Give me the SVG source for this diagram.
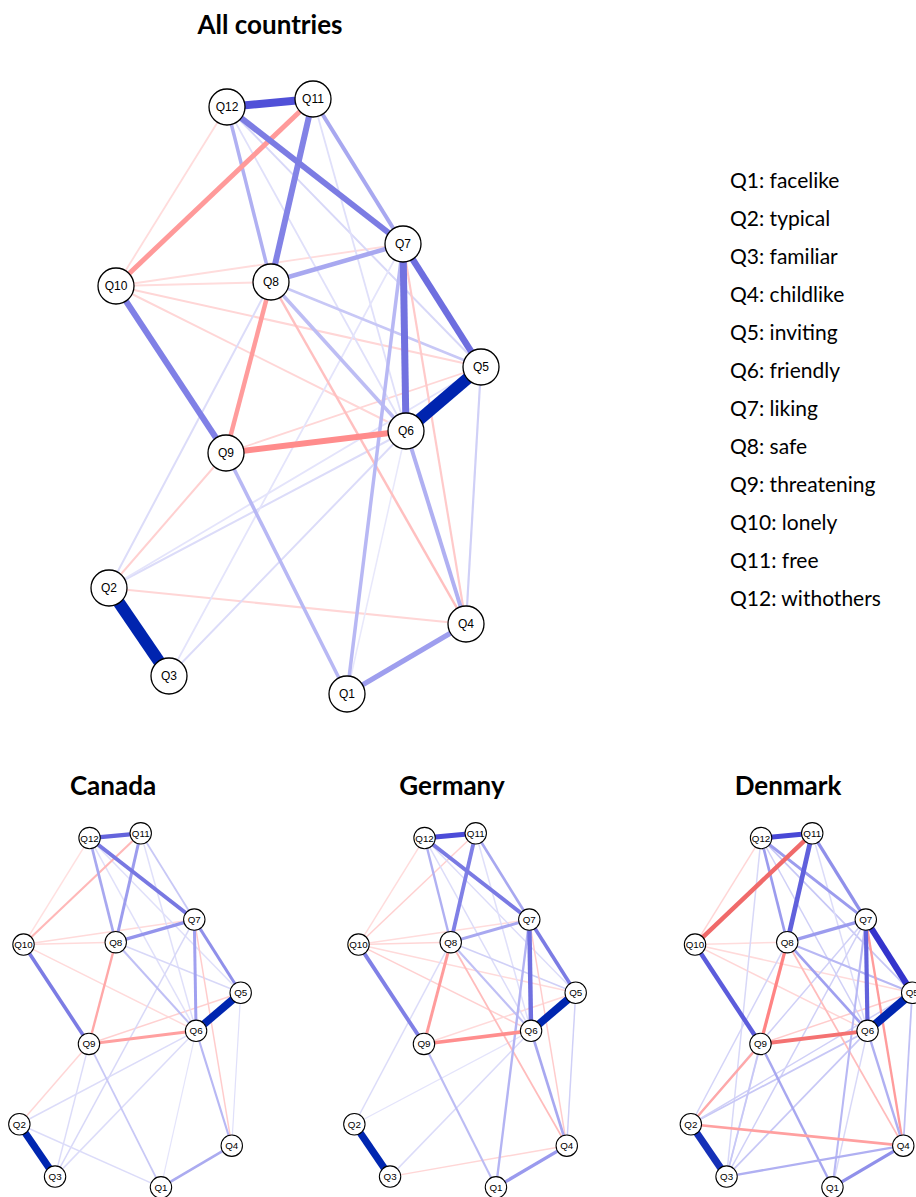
<svg xmlns="http://www.w3.org/2000/svg" width="916" height="1197" viewBox="0 0 916 1197">
<style>
.title{font-family:Lato,"Liberation Sans",sans-serif;font-weight:700;font-size:26px;fill:#000;text-anchor:middle}
.leg{font-family:Lato,"Liberation Sans",sans-serif;font-size:21px;fill:#000}
.node circle{fill:#fff;stroke:#000;stroke-width:1.3}
.node text{font-family:"Liberation Sans",Arial,sans-serif;font-size:12px;fill:#000;text-anchor:middle}
.small .node circle{stroke-width:1.8}
.small .node text{font-size:16.5px}
line{fill:none}
</style>
<rect width="916" height="1197" fill="#fff"/>
<text class="title" x="270" y="34">All countries</text>
<text class="title" x="113" y="795">Canada</text>
<text class="title" x="452" y="795">Germany</text>
<text class="title" x="788" y="795">Denmark</text>
<g id="legend" class="leg">
<text x="730" y="188">Q1: facelike</text>
<text x="730" y="226">Q2: typical</text>
<text x="730" y="264">Q3: familiar</text>
<text x="730" y="302">Q4: childlike</text>
<text x="730" y="340">Q5: inviting</text>
<text x="730" y="378">Q6: friendly</text>
<text x="730" y="416">Q7: liking</text>
<text x="730" y="454">Q8: safe</text>
<text x="730" y="492">Q9: threatening</text>
<text x="730" y="530">Q10: lonely</text>
<text x="730" y="568">Q11: free</text>
<text x="730" y="606">Q12: withothers</text>
</g>

<!-- ALL COUNTRIES -->
<g id="all">
<g id="all-edges">
<line x1="227" y1="107" x2="116" y2="286" stroke="#FFDCDC" stroke-width="1.8"/>
<line x1="116" y1="286" x2="403" y2="244" stroke="#FFDCDC" stroke-width="1.8"/>
<line x1="116" y1="286" x2="271" y2="282" stroke="#FFDCDC" stroke-width="2"/>
<line x1="116" y1="286" x2="481" y2="367" stroke="#FFD6D6" stroke-width="2"/>
<line x1="116" y1="286" x2="406" y2="431" stroke="#FFD6D6" stroke-width="2"/>
<line x1="226" y1="453" x2="481" y2="367" stroke="#FFD6D6" stroke-width="1.8"/>
<line x1="226" y1="453" x2="109" y2="588" stroke="#FFD0D0" stroke-width="2"/>
<line x1="109" y1="588" x2="466" y2="624" stroke="#FFD6D6" stroke-width="2"/>
<line x1="227" y1="107" x2="481" y2="367" stroke="#D8D8F8" stroke-width="2"/>
<line x1="227" y1="107" x2="406" y2="431" stroke="#E0E0FA" stroke-width="1.8"/>
<line x1="313" y1="99" x2="406" y2="431" stroke="#E0E0FA" stroke-width="1.8"/>
<line x1="313" y1="99" x2="481" y2="367" stroke="#E4E4FA" stroke-width="1.5"/>
<line x1="109" y1="588" x2="271" y2="282" stroke="#DCDCF9" stroke-width="2"/>
<line x1="109" y1="588" x2="406" y2="431" stroke="#DCDCF9" stroke-width="2"/>
<line x1="109" y1="588" x2="481" y2="367" stroke="#E4E4FB" stroke-width="1.8"/>
<line x1="169" y1="676" x2="406" y2="431" stroke="#DCDCF9" stroke-width="2"/>
<line x1="169" y1="676" x2="403" y2="244" stroke="#E4E4FB" stroke-width="1.8"/>
<line x1="347" y1="694" x2="406" y2="431" stroke="#E8E8FB" stroke-width="1.5"/>
<line x1="481" y1="367" x2="466" y2="624" stroke="#D0D0F7" stroke-width="2.2"/>
<line x1="271" y1="282" x2="481" y2="367" stroke="#C8C8F6" stroke-width="2.5"/>
<line x1="403" y1="244" x2="466" y2="624" stroke="#FFCACA" stroke-width="2.2"/>
<line x1="271" y1="282" x2="466" y2="624" stroke="#FFC0C0" stroke-width="2.5"/>
<line x1="271" y1="282" x2="406" y2="431" stroke="#BDBDF4" stroke-width="3.5"/>
<line x1="403" y1="244" x2="347" y2="694" stroke="#B8B8F4" stroke-width="3.5"/>
<line x1="226" y1="453" x2="347" y2="694" stroke="#B8B8F4" stroke-width="3.5"/>
<line x1="406" y1="431" x2="466" y2="624" stroke="#B0B0F2" stroke-width="4"/>
<line x1="227" y1="107" x2="271" y2="282" stroke="#B0B0F2" stroke-width="3.5"/>
<line x1="313" y1="99" x2="403" y2="244" stroke="#A8A8F0" stroke-width="4"/>
<line x1="403" y1="244" x2="271" y2="282" stroke="#A8A8F0" stroke-width="4.5"/>
<line x1="347" y1="694" x2="466" y2="624" stroke="#9E9EEE" stroke-width="5"/>
<line x1="271" y1="282" x2="226" y2="453" stroke="#FF9C9C" stroke-width="4.5"/>
<line x1="313" y1="99" x2="116" y2="286" stroke="#FF9A9A" stroke-width="5"/>
<line x1="226" y1="453" x2="406" y2="431" stroke="#FF8C8C" stroke-width="6"/>
<line x1="116" y1="286" x2="226" y2="453" stroke="#8080E6" stroke-width="6"/>
<line x1="313" y1="99" x2="271" y2="282" stroke="#8282E6" stroke-width="6"/>
<line x1="227" y1="107" x2="403" y2="244" stroke="#7C7CE3" stroke-width="6"/>
<line x1="403" y1="244" x2="481" y2="367" stroke="#6E6EDF" stroke-width="6.5"/>
<line x1="403" y1="244" x2="406" y2="431" stroke="#7272E0" stroke-width="7"/>
<line x1="227" y1="107" x2="313" y2="99" stroke="#5050D8" stroke-width="8"/>
<line x1="481" y1="367" x2="406" y2="431" stroke="#0024AF" stroke-width="12"/>
<line x1="109" y1="588" x2="169" y2="676" stroke="#0024AF" stroke-width="12"/>
</g>
<g id="all-Q1" class="node"><circle cx="347" cy="694" r="18"/><text x="347" y="698.2">Q1</text></g>
<g id="all-Q2" class="node"><circle cx="109" cy="588" r="18"/><text x="109" y="592.2">Q2</text></g>
<g id="all-Q3" class="node"><circle cx="169" cy="676" r="18"/><text x="169" y="680.2">Q3</text></g>
<g id="all-Q4" class="node"><circle cx="466" cy="624" r="18"/><text x="466" y="628.2">Q4</text></g>
<g id="all-Q5" class="node"><circle cx="481" cy="367" r="18"/><text x="481" y="371.2">Q5</text></g>
<g id="all-Q6" class="node"><circle cx="406" cy="431" r="18"/><text x="406" y="435.2">Q6</text></g>
<g id="all-Q7" class="node"><circle cx="403" cy="244" r="18"/><text x="403" y="248.2">Q7</text></g>
<g id="all-Q8" class="node"><circle cx="271" cy="282" r="18"/><text x="271" y="286.2">Q8</text></g>
<g id="all-Q9" class="node"><circle cx="226" cy="453" r="18"/><text x="226" y="457.2">Q9</text></g>
<g id="all-Q10" class="node"><circle cx="116" cy="286" r="18"/><text x="116" y="290.2">Q10</text></g>
<g id="all-Q11" class="node"><circle cx="313" cy="99" r="18"/><text x="313" y="103.2">Q11</text></g>
<g id="all-Q12" class="node"><circle cx="227" cy="107" r="18"/><text x="227" y="111.2">Q12</text></g>
</g>

<!-- CANADA -->
<g id="canada" class="small" transform="translate(-45.5,774.4) scale(0.595)">
<g id="ca-edges">
<line x1="227" y1="107" x2="116" y2="286" stroke="#FFE0E0" stroke-width="2.5"/>
<line x1="116" y1="286" x2="271" y2="282" stroke="#FFDADA" stroke-width="2.5"/>
<line x1="116" y1="286" x2="403" y2="244" stroke="#FFDADA" stroke-width="2.5"/>
<line x1="116" y1="286" x2="406" y2="431" stroke="#FFDADA" stroke-width="2.5"/>
<line x1="226" y1="453" x2="481" y2="367" stroke="#FFD0D0" stroke-width="2.5"/>
<line x1="226" y1="453" x2="109" y2="588" stroke="#FFD6D6" stroke-width="2.5"/>
<line x1="227" y1="107" x2="406" y2="431" stroke="#E0E0FA" stroke-width="2.5"/>
<line x1="313" y1="99" x2="406" y2="431" stroke="#E0E0FA" stroke-width="2.5"/>
<line x1="227" y1="107" x2="481" y2="367" stroke="#E0E0FA" stroke-width="2.5"/>
<line x1="271" y1="282" x2="481" y2="367" stroke="#D8D8F8" stroke-width="2.5"/>
<line x1="403" y1="244" x2="169" y2="676" stroke="#D8D8F8" stroke-width="2.5"/>
<line x1="403" y1="244" x2="466" y2="624" stroke="#FFCCCC" stroke-width="2.5"/>
<line x1="226" y1="453" x2="169" y2="676" stroke="#DCDCF9" stroke-width="2.5"/>
<line x1="406" y1="431" x2="109" y2="588" stroke="#DCDCF9" stroke-width="2.5"/>
<line x1="406" y1="431" x2="169" y2="676" stroke="#DCDCF9" stroke-width="2.5"/>
<line x1="109" y1="588" x2="347" y2="694" stroke="#DCDCF9" stroke-width="2.5"/>
<line x1="406" y1="431" x2="347" y2="694" stroke="#E4E4FB" stroke-width="2"/>
<line x1="481" y1="367" x2="466" y2="624" stroke="#E0E0FA" stroke-width="2"/>
<line x1="313" y1="99" x2="403" y2="244" stroke="#C8C8F6" stroke-width="3"/>
<line x1="226" y1="453" x2="347" y2="694" stroke="#C8C8F6" stroke-width="3"/>
<line x1="271" y1="282" x2="406" y2="431" stroke="#C0C0F5" stroke-width="3.5"/>
<line x1="406" y1="431" x2="466" y2="624" stroke="#B8B8F4" stroke-width="3.5"/>
<line x1="313" y1="99" x2="116" y2="286" stroke="#FFB8B8" stroke-width="3.5"/>
<line x1="271" y1="282" x2="226" y2="453" stroke="#FFA8A8" stroke-width="4"/>
<line x1="226" y1="453" x2="406" y2="431" stroke="#FFA0A0" stroke-width="5"/>
<line x1="347" y1="694" x2="466" y2="624" stroke="#ABABF0" stroke-width="4.5"/>
<line x1="227" y1="107" x2="271" y2="282" stroke="#A8A8F0" stroke-width="4.5"/>
<line x1="403" y1="244" x2="406" y2="431" stroke="#A0A0F0" stroke-width="5"/>
<line x1="313" y1="99" x2="271" y2="282" stroke="#9C9CEE" stroke-width="5"/>
<line x1="271" y1="282" x2="403" y2="244" stroke="#9494EC" stroke-width="5.5"/>
<line x1="403" y1="244" x2="481" y2="367" stroke="#9090EA" stroke-width="5"/>
<line x1="116" y1="286" x2="226" y2="453" stroke="#7C7CE4" stroke-width="6"/>
<line x1="227" y1="107" x2="403" y2="244" stroke="#7878E2" stroke-width="6.5"/>
<line x1="227" y1="107" x2="313" y2="99" stroke="#6464DC" stroke-width="7"/>
<line x1="481" y1="367" x2="406" y2="431" stroke="#0026B0" stroke-width="13"/>
<line x1="109" y1="588" x2="169" y2="676" stroke="#0026B0" stroke-width="12"/>
</g>
<g id="ca-Q1" class="node"><circle cx="347" cy="694" r="18"/><text x="347" y="699.8">Q1</text></g>
<g id="ca-Q2" class="node"><circle cx="109" cy="588" r="18"/><text x="109" y="593.8">Q2</text></g>
<g id="ca-Q3" class="node"><circle cx="169" cy="676" r="18"/><text x="169" y="681.8">Q3</text></g>
<g id="ca-Q4" class="node"><circle cx="466" cy="624" r="18"/><text x="466" y="629.8">Q4</text></g>
<g id="ca-Q5" class="node"><circle cx="481" cy="367" r="18"/><text x="481" y="372.8">Q5</text></g>
<g id="ca-Q6" class="node"><circle cx="406" cy="431" r="18"/><text x="406" y="436.8">Q6</text></g>
<g id="ca-Q7" class="node"><circle cx="403" cy="244" r="18"/><text x="403" y="249.8">Q7</text></g>
<g id="ca-Q8" class="node"><circle cx="271" cy="282" r="18"/><text x="271" y="287.8">Q8</text></g>
<g id="ca-Q9" class="node"><circle cx="226" cy="453" r="18"/><text x="226" y="458.8">Q9</text></g>
<g id="ca-Q10" class="node"><circle cx="116" cy="286" r="18"/><text x="116" y="291.8">Q10</text></g>
<g id="ca-Q11" class="node"><circle cx="313" cy="99" r="18"/><text x="313" y="104.8">Q11</text></g>
<g id="ca-Q12" class="node"><circle cx="227" cy="107" r="18"/><text x="227" y="112.8">Q12</text></g>
</g>

<!-- GERMANY -->
<g id="germany" class="small" transform="translate(289.5,774.4) scale(0.595)">
<g id="de-edges">
<line x1="227" y1="107" x2="116" y2="286" stroke="#FFDCDC" stroke-width="2.5"/>
<line x1="313" y1="99" x2="116" y2="286" stroke="#FFD0D0" stroke-width="2.5"/>
<line x1="116" y1="286" x2="271" y2="282" stroke="#FFD6D6" stroke-width="2.5"/>
<line x1="116" y1="286" x2="403" y2="244" stroke="#FFDCDC" stroke-width="2.5"/>
<line x1="116" y1="286" x2="481" y2="367" stroke="#FFDADA" stroke-width="2.5"/>
<line x1="116" y1="286" x2="406" y2="431" stroke="#FFD0D0" stroke-width="2.5"/>
<line x1="226" y1="453" x2="481" y2="367" stroke="#FFDADA" stroke-width="2.5"/>
<line x1="169" y1="676" x2="466" y2="624" stroke="#FFD6D6" stroke-width="2.5"/>
<line x1="227" y1="107" x2="406" y2="431" stroke="#DCDCF9" stroke-width="2.5"/>
<line x1="227" y1="107" x2="481" y2="367" stroke="#DCDCF9" stroke-width="2.5"/>
<line x1="313" y1="99" x2="406" y2="431" stroke="#E0E0FA" stroke-width="2.5"/>
<line x1="271" y1="282" x2="481" y2="367" stroke="#D0D0F7" stroke-width="2.5"/>
<line x1="271" y1="282" x2="109" y2="588" stroke="#DCDCF9" stroke-width="2.5"/>
<line x1="406" y1="431" x2="109" y2="588" stroke="#E4E4FB" stroke-width="2"/>
<line x1="406" y1="431" x2="169" y2="676" stroke="#DCDCF9" stroke-width="2.5"/>
<line x1="481" y1="367" x2="466" y2="624" stroke="#D0D0F7" stroke-width="2.5"/>
<line x1="403" y1="244" x2="466" y2="624" stroke="#FFCCCC" stroke-width="2.5"/>
<line x1="271" y1="282" x2="466" y2="624" stroke="#FFBCBC" stroke-width="3"/>
<line x1="271" y1="282" x2="406" y2="431" stroke="#C0C0F5" stroke-width="3.5"/>
<line x1="226" y1="453" x2="347" y2="694" stroke="#BCBCF4" stroke-width="3.5"/>
<line x1="403" y1="244" x2="347" y2="694" stroke="#B4B4F3" stroke-width="4"/>
<line x1="406" y1="431" x2="466" y2="624" stroke="#A8A8F0" stroke-width="4.5"/>
<line x1="227" y1="107" x2="271" y2="282" stroke="#B0B0F2" stroke-width="4"/>
<line x1="313" y1="99" x2="403" y2="244" stroke="#A8A8F0" stroke-width="4.5"/>
<line x1="271" y1="282" x2="403" y2="244" stroke="#A8A8F0" stroke-width="5"/>
<line x1="347" y1="694" x2="466" y2="624" stroke="#9A9AEE" stroke-width="5.5"/>
<line x1="271" y1="282" x2="226" y2="453" stroke="#FF9C9C" stroke-width="5"/>
<line x1="226" y1="453" x2="406" y2="431" stroke="#FF8E8E" stroke-width="6"/>
<line x1="116" y1="286" x2="226" y2="453" stroke="#8080E6" stroke-width="6.5"/>
<line x1="313" y1="99" x2="271" y2="282" stroke="#8080E6" stroke-width="6.5"/>
<line x1="227" y1="107" x2="403" y2="244" stroke="#7A7AE3" stroke-width="6.5"/>
<line x1="403" y1="244" x2="481" y2="367" stroke="#7C7CE4" stroke-width="6"/>
<line x1="403" y1="244" x2="406" y2="431" stroke="#7070E0" stroke-width="7.5"/>
<line x1="227" y1="107" x2="313" y2="99" stroke="#4C4CD8" stroke-width="8.5"/>
<line x1="481" y1="367" x2="406" y2="431" stroke="#0026B0" stroke-width="13"/>
<line x1="109" y1="588" x2="169" y2="676" stroke="#0026B0" stroke-width="12"/>
</g>
<g id="de-Q1" class="node"><circle cx="347" cy="694" r="18"/><text x="347" y="699.8">Q1</text></g>
<g id="de-Q2" class="node"><circle cx="109" cy="588" r="18"/><text x="109" y="593.8">Q2</text></g>
<g id="de-Q3" class="node"><circle cx="169" cy="676" r="18"/><text x="169" y="681.8">Q3</text></g>
<g id="de-Q4" class="node"><circle cx="466" cy="624" r="18"/><text x="466" y="629.8">Q4</text></g>
<g id="de-Q5" class="node"><circle cx="481" cy="367" r="18"/><text x="481" y="372.8">Q5</text></g>
<g id="de-Q6" class="node"><circle cx="406" cy="431" r="18"/><text x="406" y="436.8">Q6</text></g>
<g id="de-Q7" class="node"><circle cx="403" cy="244" r="18"/><text x="403" y="249.8">Q7</text></g>
<g id="de-Q8" class="node"><circle cx="271" cy="282" r="18"/><text x="271" y="287.8">Q8</text></g>
<g id="de-Q9" class="node"><circle cx="226" cy="453" r="18"/><text x="226" y="458.8">Q9</text></g>
<g id="de-Q10" class="node"><circle cx="116" cy="286" r="18"/><text x="116" y="291.8">Q10</text></g>
<g id="de-Q11" class="node"><circle cx="313" cy="99" r="18"/><text x="313" y="104.8">Q11</text></g>
<g id="de-Q12" class="node"><circle cx="227" cy="107" r="18"/><text x="227" y="112.8">Q12</text></g>
</g>

<!-- DENMARK -->
<g id="denmark" class="small" transform="translate(626,774.4) scale(0.595)">
<g id="dk-edges">
<line x1="227" y1="107" x2="116" y2="286" stroke="#FFD6D6" stroke-width="2.5"/>
<line x1="116" y1="286" x2="271" y2="282" stroke="#FFDCDC" stroke-width="2.5"/>
<line x1="116" y1="286" x2="481" y2="367" stroke="#FFDADA" stroke-width="2.5"/>
<line x1="116" y1="286" x2="406" y2="431" stroke="#FFD6D6" stroke-width="2.5"/>
<line x1="226" y1="453" x2="481" y2="367" stroke="#FFCCCC" stroke-width="2.5"/>
<line x1="227" y1="107" x2="169" y2="676" stroke="#D8D8F8" stroke-width="2.5"/>
<line x1="227" y1="107" x2="481" y2="367" stroke="#C8C8F6" stroke-width="3"/>
<line x1="313" y1="99" x2="406" y2="431" stroke="#DCDCF9" stroke-width="2.5"/>
<line x1="227" y1="107" x2="406" y2="431" stroke="#D0D0F7" stroke-width="2.5"/>
<line x1="271" y1="282" x2="169" y2="676" stroke="#D4D4F8" stroke-width="2.5"/>
<line x1="271" y1="282" x2="109" y2="588" stroke="#D4D4F8" stroke-width="2.5"/>
<line x1="403" y1="244" x2="109" y2="588" stroke="#D0D0F7" stroke-width="2.5"/>
<line x1="403" y1="244" x2="169" y2="676" stroke="#D0D0F7" stroke-width="2.5"/>
<line x1="406" y1="431" x2="109" y2="588" stroke="#C8C8F6" stroke-width="3"/>
<line x1="406" y1="431" x2="169" y2="676" stroke="#C8C8F6" stroke-width="3"/>
<line x1="481" y1="367" x2="109" y2="588" stroke="#D0D0F7" stroke-width="2.5"/>
<line x1="226" y1="453" x2="169" y2="676" stroke="#C8C8F6" stroke-width="3"/>
<line x1="406" y1="431" x2="347" y2="694" stroke="#D8D8F8" stroke-width="2.5"/>
<line x1="481" y1="367" x2="466" y2="624" stroke="#C0C0F5" stroke-width="3"/>
<line x1="271" y1="282" x2="466" y2="624" stroke="#FFBCBC" stroke-width="3"/>
<line x1="271" y1="282" x2="481" y2="367" stroke="#B8B8F4" stroke-width="3.5"/>
<line x1="403" y1="244" x2="347" y2="694" stroke="#B8B8F4" stroke-width="3.5"/>
<line x1="403" y1="244" x2="466" y2="624" stroke="#FF9C9C" stroke-width="4"/>
<line x1="226" y1="453" x2="109" y2="588" stroke="#FFA8A8" stroke-width="4"/>
<line x1="226" y1="453" x2="347" y2="694" stroke="#A8A8F0" stroke-width="4"/>
<line x1="406" y1="431" x2="466" y2="624" stroke="#B0B0F2" stroke-width="4"/>
<line x1="169" y1="676" x2="466" y2="624" stroke="#B0B0F2" stroke-width="4"/>
<line x1="271" y1="282" x2="406" y2="431" stroke="#A0A0F0" stroke-width="4.5"/>
<line x1="109" y1="588" x2="466" y2="624" stroke="#FFA0A0" stroke-width="4.5"/>
<line x1="227" y1="107" x2="271" y2="282" stroke="#9C9CEE" stroke-width="4.5"/>
<line x1="227" y1="107" x2="403" y2="244" stroke="#9C9CEE" stroke-width="5"/>
<line x1="313" y1="99" x2="403" y2="244" stroke="#9090EA" stroke-width="5.5"/>
<line x1="271" y1="282" x2="403" y2="244" stroke="#9C9CEE" stroke-width="5.5"/>
<line x1="347" y1="694" x2="466" y2="624" stroke="#9090EA" stroke-width="5.5"/>
<line x1="271" y1="282" x2="226" y2="453" stroke="#FF8484" stroke-width="5.5"/>
<line x1="226" y1="453" x2="406" y2="431" stroke="#F47272" stroke-width="6.5"/>
<line x1="313" y1="99" x2="116" y2="286" stroke="#F06A6A" stroke-width="7.5"/>
<line x1="403" y1="244" x2="406" y2="431" stroke="#6262DC" stroke-width="7"/>
<line x1="116" y1="286" x2="226" y2="453" stroke="#5C5CDC" stroke-width="7.5"/>
<line x1="313" y1="99" x2="271" y2="282" stroke="#6060DC" stroke-width="8"/>
<line x1="227" y1="107" x2="313" y2="99" stroke="#4848D6" stroke-width="8.5"/>
<line x1="403" y1="244" x2="481" y2="367" stroke="#3434CC" stroke-width="10.5"/>
<line x1="481" y1="367" x2="406" y2="431" stroke="#0026B0" stroke-width="14"/>
<line x1="109" y1="588" x2="169" y2="676" stroke="#1530B8" stroke-width="12"/>
</g>
<g id="dk-Q1" class="node"><circle cx="347" cy="694" r="18"/><text x="347" y="699.8">Q1</text></g>
<g id="dk-Q2" class="node"><circle cx="109" cy="588" r="18"/><text x="109" y="593.8">Q2</text></g>
<g id="dk-Q3" class="node"><circle cx="169" cy="676" r="18"/><text x="169" y="681.8">Q3</text></g>
<g id="dk-Q4" class="node"><circle cx="466" cy="624" r="18"/><text x="466" y="629.8">Q4</text></g>
<g id="dk-Q5" class="node"><circle cx="481" cy="367" r="18"/><text x="481" y="372.8">Q5</text></g>
<g id="dk-Q6" class="node"><circle cx="406" cy="431" r="18"/><text x="406" y="436.8">Q6</text></g>
<g id="dk-Q7" class="node"><circle cx="403" cy="244" r="18"/><text x="403" y="249.8">Q7</text></g>
<g id="dk-Q8" class="node"><circle cx="271" cy="282" r="18"/><text x="271" y="287.8">Q8</text></g>
<g id="dk-Q9" class="node"><circle cx="226" cy="453" r="18"/><text x="226" y="458.8">Q9</text></g>
<g id="dk-Q10" class="node"><circle cx="116" cy="286" r="18"/><text x="116" y="291.8">Q10</text></g>
<g id="dk-Q11" class="node"><circle cx="313" cy="99" r="18"/><text x="313" y="104.8">Q11</text></g>
<g id="dk-Q12" class="node"><circle cx="227" cy="107" r="18"/><text x="227" y="112.8">Q12</text></g>
</g>
</svg>
